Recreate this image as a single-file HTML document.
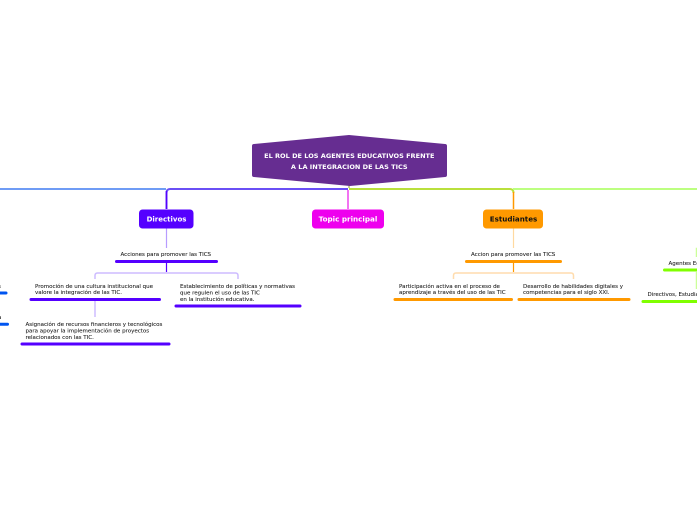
<!DOCTYPE html>
<html><head><meta charset="utf-8"><style>
html,body{margin:0;padding:0;background:#fff;}
svg{display:block;}
text{font-family:"DejaVu Sans",Verdana,sans-serif;font-size:5.5px;fill:#1c1c1c;stroke:#1c1c1c;stroke-width:.08px;}
.b{font-weight:bold;font-size:7px;}
</style></head><body>
<svg width="697" height="520" viewBox="0 0 697 520" xmlns="http://www.w3.org/2000/svg">
<rect width="697" height="520" fill="#fff"/>
<g fill="none">
<path d="M0 189H166" stroke="#6f9cf5" stroke-width="2"/>
<path d="M348 189H170Q166.500 189 166.500 193V209" stroke="#6a4ff5" stroke-width="2"/>
<path d="M166.500 191V209" stroke="#5500ff" stroke-width="1.500"/>
<path d="M349 189H510Q513.500 189 513.500 193" stroke="#b9e03c" stroke-width="2"/>
<path d="M513 189H697" stroke="#bcff80" stroke-width="2"/>
<path d="M513.500 192V209" stroke="#ff9900" stroke-width="1.500"/>
<path d="M348 190V209" stroke="#ee44ee" stroke-width="1.500"/>
<path d="M349 184V188" stroke="#8a9a30" stroke-width="1"/>
<path d="M166.500 228V248" stroke="#b79cff" stroke-width="1.200"/>
<path d="M166.500 263V272" stroke="#5500ff" stroke-width="1.200"/>
<path d="M95 279V275.500Q95 273 97.500 273H235.500Q238 273 238 275.500V279" stroke="#cdbcff" stroke-width="1.500"/>
<path d="M95 301V317" stroke="#cdbcff" stroke-width="1.500"/>
<path d="M513.500 228V248" stroke="#ffd9a0" stroke-width="1.200"/>
<path d="M513.500 263V272" stroke="#ff9900" stroke-width="1.200"/>
<path d="M453.500 279V275.500Q453.500 273 456 273H571Q573.500 273 573.500 275.500V279" stroke="#ffdcae" stroke-width="1.500"/>
<path d="M697 248.500H696.500V257M696.500 272V289" stroke="#ccff99" stroke-width="1.500"/>
</g>
<path d="M252 146Q252 144 254 144L349 135L445 144Q447 144 447 146V175Q447 177 445 177L350 186L254 177Q252 177 252 175Z" fill="#662d91"/>
<rect x="139" y="209.500" width="54.500" height="19" rx="3.500" fill="#5500ff"/>
<rect x="312" y="209.500" width="72" height="19" rx="3.500" fill="#ee00ee"/>
<rect x="483" y="209.500" width="60" height="19" rx="3.500" fill="#ff9900"/>
<g stroke-width="3" stroke-linecap="round" fill="none">
<path d="M116.500 261.500H216.500" stroke="#5500ff"/>
<path d="M31 299.500H159.500" stroke="#5500ff"/>
<path d="M176 306H300" stroke="#5500ff"/>
<path d="M22 344H169" stroke="#5500ff"/>
<path d="M0 293H6M0 324.300H7.500" stroke="#0055f0"/>
<path d="M466.500 261.500H560.500" stroke="#ff9900"/>
<path d="M395 299.500H511.500" stroke="#ff9900"/>
<path d="M519 299.500H629" stroke="#ff9900"/>
<path d="M664.500 270H697" stroke="#80ff00"/>
<path d="M643 301.500H697" stroke="#80ff00"/>
</g>
<g>
<text x="349.300" y="157.800" text-anchor="middle" style="font-size:6.550px;font-weight:bold;fill:#fff;stroke:none">EL ROL DE LOS AGENTES EDUCATIVOS FRENTE</text>
<text x="349.300" y="168.800" text-anchor="middle" style="font-size:6.550px;font-weight:bold;fill:#fff;stroke:none">A LA INTEGRACION DE LAS TICS</text>
<text class="b" x="166.500" y="221.500" text-anchor="middle" style="fill:#fff;stroke:none">Directivos</text>
<text class="b" x="348" y="221.500" text-anchor="middle" style="fill:#fff;stroke:none;font-size:7.200px">Topic principal</text>
<text class="b" x="513.500" y="221.500" text-anchor="middle" style="fill:#111;stroke:none;font-size:7.150px">Estudiantes</text>
</g>
<text x="120.500" y="256">Acciones para promover las TICS</text>
<text x="35" y="288">Promoción de una cultura institucional que</text>
<text x="35" y="294">valore la integración de las TIC.</text>
<text x="180" y="288">Establecimiento de políticas y normativas</text>
<text x="180" y="294.500">que regulen el uso de las TIC</text>
<text x="180" y="301">en la institución educativa.</text>
<text x="25.500" y="326">Asignación de recursos financieros y tecnológicos</text>
<text x="25.500" y="332.500">para apoyar la implementación de proyectos</text>
<text x="25.500" y="339">relacionados con las TIC.</text>
<text x="471" y="256">Accion para promover las TICS</text>
<text x="399" y="288">Participación activa en el proceso de</text>
<text x="399" y="294">aprendizaje a través del uso de las TIC</text>
<text x="523" y="288">Desarrollo de habilidades digitales y</text>
<text x="523" y="294">competencias para el siglo XXI.</text>
<text x="668.500" y="265">Agentes Educativos</text>
<text x="647.500" y="296">Directivos, Estudiantes</text>
<text x="-2" y="288">s</text>
<text x="-2" y="319">a</text>
</svg>
</body></html>
